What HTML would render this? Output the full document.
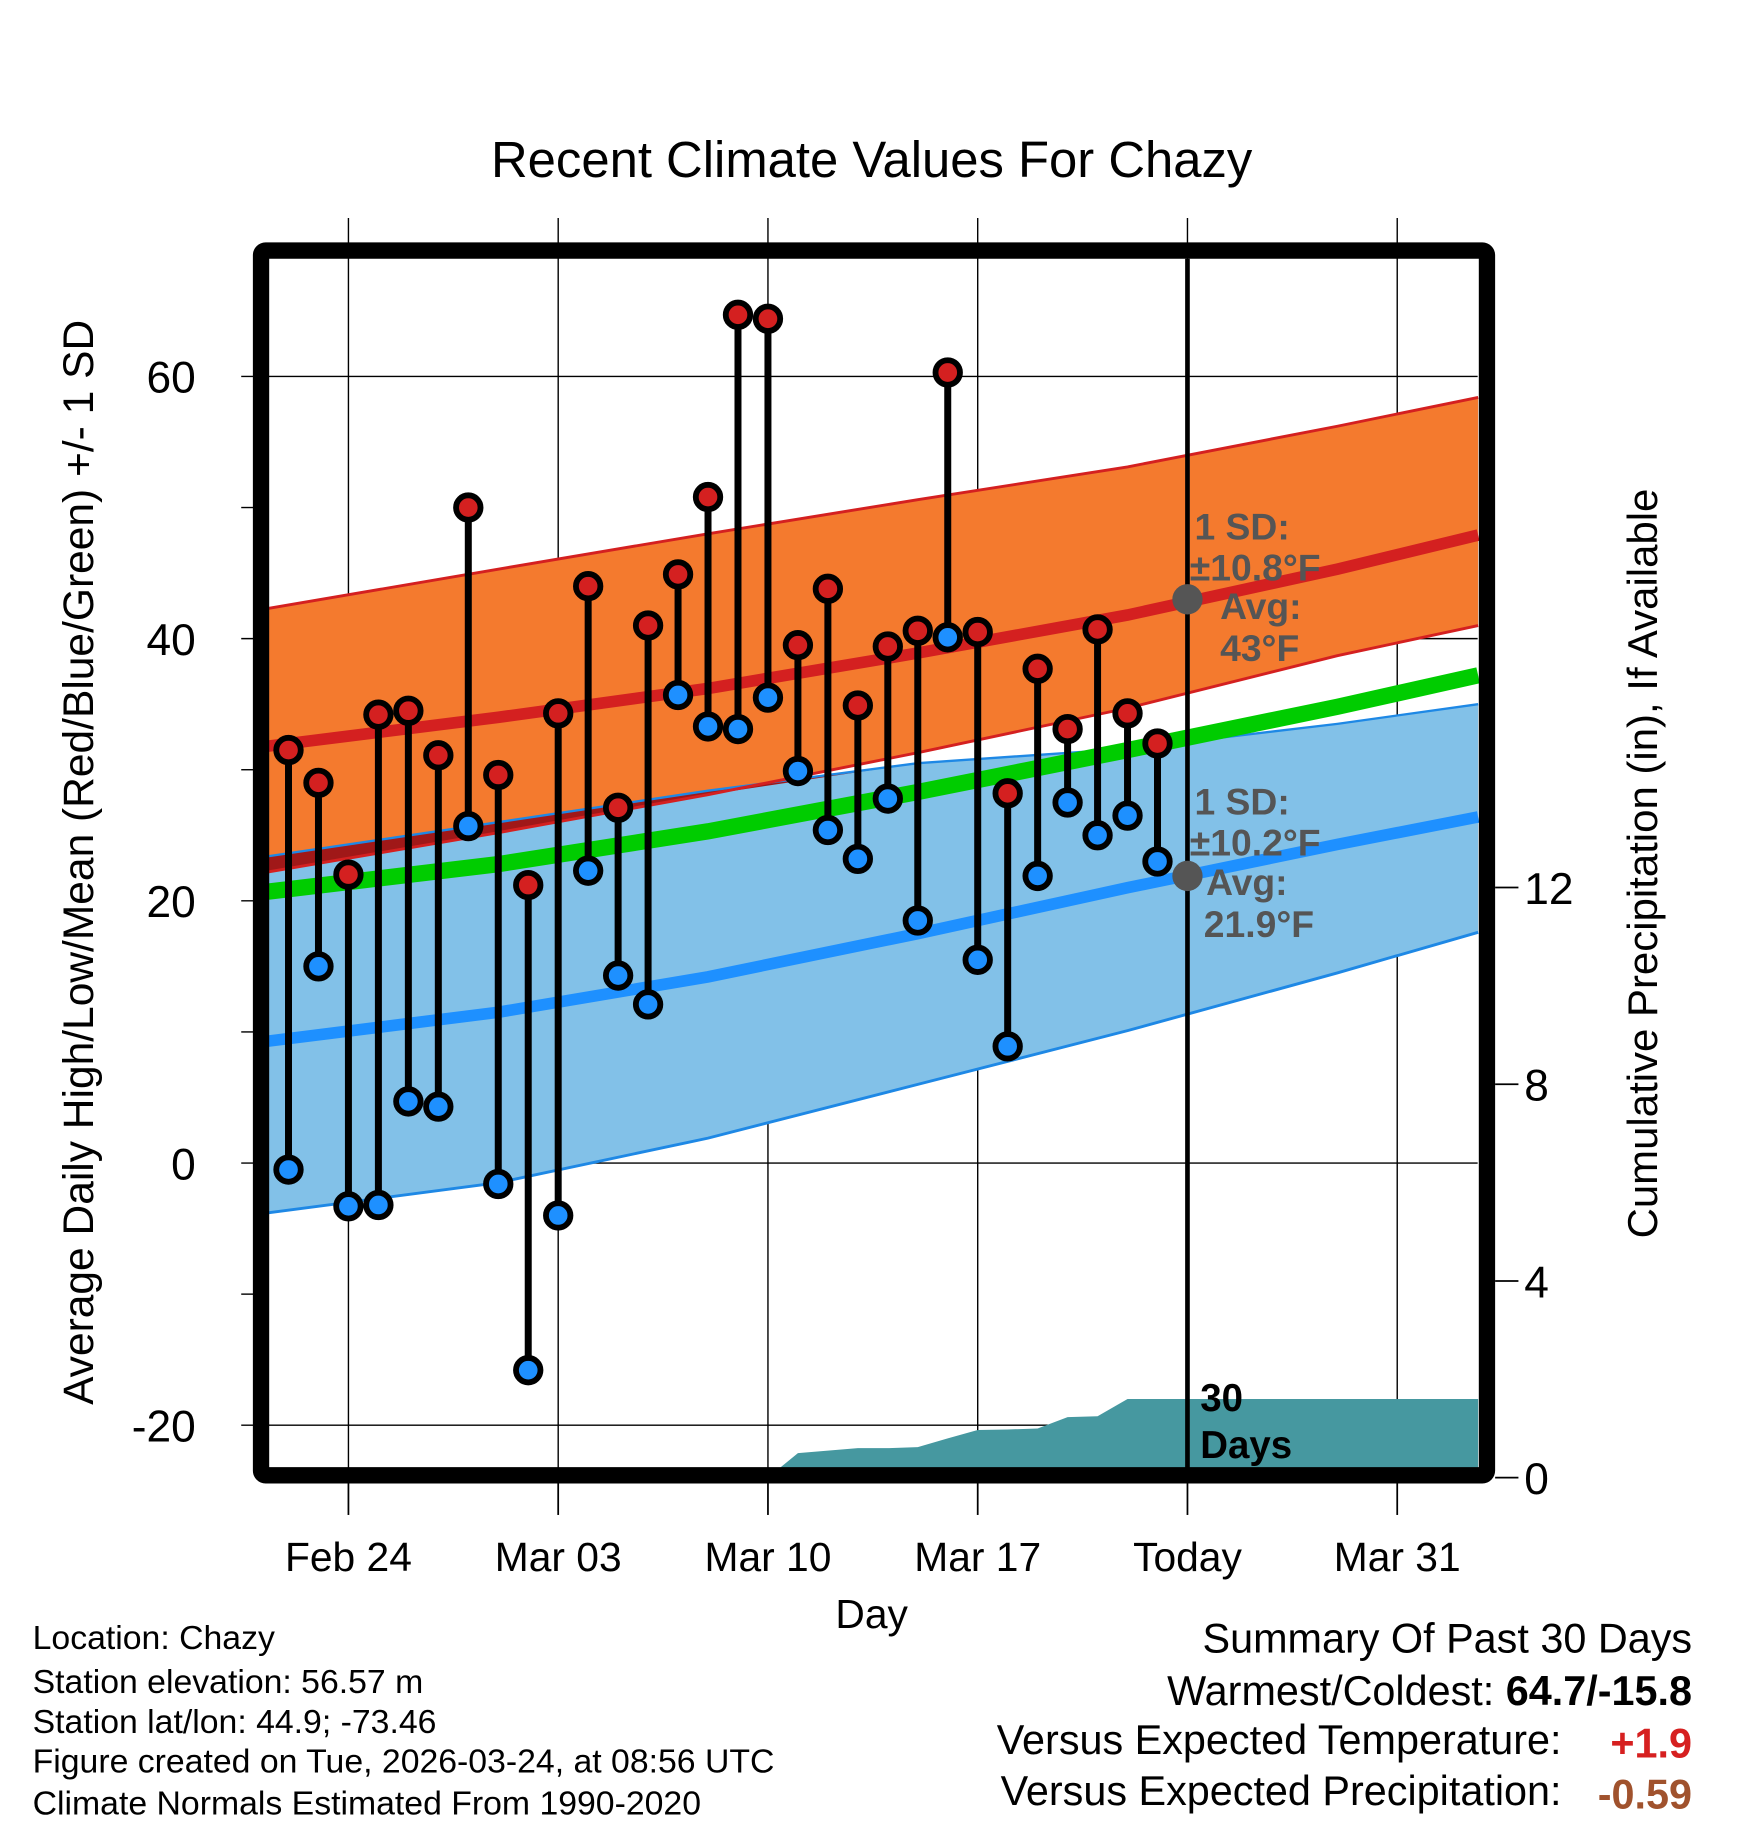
<!DOCTYPE html>
<html><head><meta charset="utf-8"><style>
html,body{margin:0;padding:0;background:#fff}
svg{display:block;font-family:"Liberation Sans",sans-serif}
</style></head><body>
<svg id="c" xmlns="http://www.w3.org/2000/svg" width="1748" height="1828" viewBox="0 0 1500 1568.6">
<rect width="1500" height="1568.6" fill="#fff"/>
<text x="748" y="152" font-size="43.6" text-anchor="middle">Recent Climate Values For Chazy</text>
<g id="grid"></g>
<g id="bands"></g>
<g id="precip"></g>
<g id="lines"></g>
<g id="pts"></g>
<g id="today"></g>
<g id="frame"></g>
<g id="axes"></g>
<text transform="translate(80,740) rotate(-90)" font-size="36.5" text-anchor="middle">Average Daily High/Low/Mean (Red/Blue/Green) +/- 1 SD</text>
<text transform="translate(1422,741) rotate(-90)" font-size="36" text-anchor="middle">Cumulative Precipitation (in), If Available</text>
<text x="748" y="1397" font-size="35" text-anchor="middle">Day</text>
<g font-size="29">
<text x="28" y="1415">Location: Chazy</text>
<text x="28" y="1453">Station elevation: 56.57 m</text>
<text x="28" y="1487">Station lat/lon: 44.9; -73.46</text>
<text x="28" y="1521">Figure created on Tue, 2026-03-24, at 08:56 UTC</text>
<text x="28" y="1557">Climate Normals Estimated From 1990-2020</text>
</g>
<g font-size="35.5" text-anchor="end">
<text x="1452" y="1418">Summary Of Past 30 Days</text>
<text x="1452" y="1463">Warmest/Coldest: <tspan font-weight="bold">64.7/-15.8</tspan></text>
<text x="1340" y="1505">Versus Expected Temperature:</text>
<text x="1452" y="1508" font-weight="bold" fill="#d62020">+1.9</text>
<text x="1340" y="1549">Versus Expected Precipitation:</text>
<text x="1452" y="1552" font-weight="bold" fill="#a0522d">-0.59</text>
</g>
</svg>
<script>
const days=[-2,-1,0,1,2,3,4,5,6,7,8,9,10,11,12,13,14,15,16,17,18,19,20,21,22,23,24,25,26,27];
const highs=[31.5,29,22,34.2,34.5,31.1,50,29.6,21.2,34.3,44,27.1,41,44.9,50.8,64.7,64.4,39.5,43.8,34.9,39.4,40.6,60.3,40.5,28.2,37.7,33.1,40.7,34.3,32];
const lows=[-0.5,15,-3.3,-3.2,4.7,4.3,25.7,-1.6,-15.8,-4,22.3,14.3,12.1,35.7,33.3,33.1,35.5,29.9,25.4,23.2,27.8,18.5,40.1,15.5,8.9,21.9,27.5,25,26.5,23];
const normDays=[-2.68,5,12,19,26,33,37.7];
const avgHigh=[31.8,34,36.2,38.9,41.8,45.3,47.9];
const highTop=[42.3,45.3,48,50.6,53.1,56.2,58.4];
const highBot=[22.2,25.2,28.1,31.3,34.7,38.7,41];
const lowTop=[23.4,26,28.4,30.5,31.6,33.5,35];
const lowBot=[-3.8,-1.5,1.9,6,10.1,14.5,17.6];
const avgLow=[9.3,11.5,14.2,17.5,21,24.3,26.4];
const avgMean=[20.7,22.8,25.3,28.3,31.5,34.8,37.2];
const precipDays=[14,15,16,17,18,19,20,21,22,23,24,25,26,27,28,37.7];
const precipVals=[0,0.5,0.55,0.6,0.6,0.62,0.8,0.97,0.98,1.0,1.23,1.25,1.6,1.6,1.6,1.6];
const xTickDays=[0,7,14,21,28,35];
const xTickLabels=["Feb 24","Mar 03","Mar 10","Mar 17","Today","Mar 31"];
const yTicks=[60,40,20,0,-20];
const yMinor=[50,30,10,-10];
const pTicks=[0,4,8,12];
const todayDay=28;
const todayHigh=43, todayLow=21.9;

const X=d=>299+25.714*d, Y=v=>998-11.25*v, P=p=>1268-42.2*p;
const NS="http://www.w3.org/2000/svg";
function mk(parent,tag,attrs,txt){const e=document.createElementNS(NS,tag);for(const k in attrs)e.setAttribute(k,attrs[k]);if(txt!==undefined)e.textContent=txt;document.getElementById(parent).appendChild(e);return e;}
const L=230,R=1268,T=222,B=1260;
xTickDays.forEach((d,i)=>{const e=mk('grid','line',{x1:X(d),x2:X(d),y1:187,y2:B,stroke:'#000','stroke-width':1.2});


const t=mk('axes','line',{x1:X(d),x2:X(d),y1:1273,y2:1300,stroke:'#000','stroke-width':1.5});


const l=mk('axes','text',{x:X(d),y:1348,'font-size':35,'text-anchor':'middle'},xTickLabels[i]);

});
yTicks.forEach(v=>{const e=mk('grid','line',{x1:207,x2:R,y1:Y(v),y2:Y(v),stroke:'#000','stroke-width':1.2});


const l=mk('axes','text',{x:168,y:Y(v)+14,'font-size':38,'text-anchor':'end'},String(v));

});
yMinor.forEach(v=>{const e=mk('axes','line',{x1:207,x2:218,y1:Y(v),y2:Y(v),stroke:'#000','stroke-width':1.2});

});
pTicks.forEach(p=>{const e=mk('axes','line',{x1:1283,x2:1303,y1:P(p),y2:P(p),stroke:'#000','stroke-width':1.5});


const l=mk('axes','text',{x:1308,y:P(p)+14,'font-size':38},String(p));

});
function pts(arr){return normDays.map((d,i)=>X(d)+','+Y(arr[i]));}
function band(top,bot,fill,name){const p=pts(top).concat(pts(bot).reverse()).join(' ');const e=mk('bands','polygon',{points:p,fill:fill});

}
function edge(arr,col,g,name,w){const e=mk(g,'polyline',{points:pts(arr).join(' '),fill:'none',stroke:col,'stroke-width':w});

}
band(lowTop,lowBot,'#82c1e8','low-sd-band');
band(highTop,highBot,'#f47a2e','high-sd-band');
const ovBot=highBot.map((v,i)=>Math.min(v,lowTop[i]));
band(lowTop,ovBot,'#a01818','band-overlap');
edge(lowTop,'#1e88e5','bands','low-band-top',2);
edge(lowBot,'#1e88e5','bands','low-band-bottom',2.5);
edge(highTop,'#d42020','bands','high-band-top',2.5);
edge(highBot,'#d42020','bands','high-band-bottom',2.5);
{const p=[X(precipDays[0])+','+P(0)].concat(precipDays.map((d,i)=>X(Math.min(d,37.7))+','+P(precipVals[i]))).concat([X(37.7)+','+P(0)]).join(' ');
const e=mk('precip','polygon',{points:p,fill:'#4698a0'});

}
edge(avgMean,'#00cc00','lines','mean-line',14);
edge(avgLow,'#1e90ff','lines','avg-low-line',10);
edge(avgHigh,'#d42020','lines','avg-high-line',10);
days.forEach((d,i)=>{const s=mk('pts','line',{x1:X(d),x2:X(d),y1:Y(highs[i]),y2:Y(lows[i]),stroke:'#000','stroke-width':6});


const h=mk('pts','circle',{cx:X(d),cy:Y(highs[i]),r:10.5,fill:'#d42020',stroke:'#000','stroke-width':5});


const l=mk('pts','circle',{cx:X(d),cy:Y(lows[i]),r:10.5,fill:'#1e90ff',stroke:'#000','stroke-width':5});

});
{const e=mk('today','line',{x1:X(todayDay),x2:X(todayDay),y1:T,y2:B,stroke:'#000','stroke-width':4});


const a=mk('today','circle',{cx:X(todayDay),cy:Y(todayHigh),r:13,fill:'#555'});


const b=mk('today','circle',{cx:X(todayDay),cy:Y(todayLow),r:13,fill:'#555'});


const ann=[["1 SD:",1025,463],["±10.8°F",1021,498],["Avg:",1047,531],["43°F",1047,567],["1 SD:",1025,699],["±10.2°F",1021,734],["Avg:",1035,768],["21.9°F",1033,804]];
ann.forEach(a=>{const t=mk('today','text',{x:a[1],y:a[2],'font-size':32,'font-weight':'bold',fill:'#555'},a[0]);

});
const d1=mk('today','text',{x:1030,y:1211,'font-size':33,'font-weight':'bold'},'30');


const d2=mk('today','text',{x:1030,y:1251,'font-size':33,'font-weight':'bold'},'Days');

}
{const f=mk('frame','rect',{x:224,y:215,width:1052,height:1051,fill:'none',stroke:'#000','stroke-width':14,rx:4});

}
</script>
</body></html>
